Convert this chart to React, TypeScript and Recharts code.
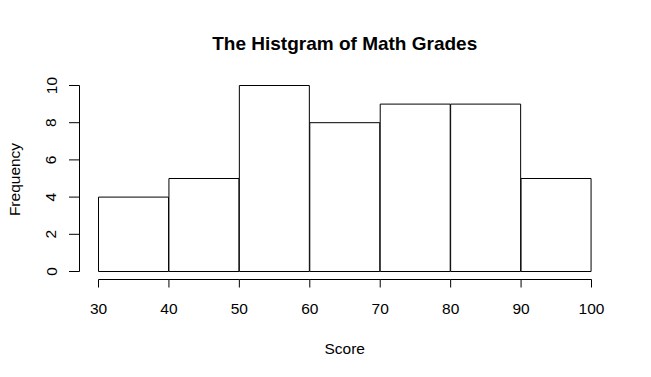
import React from "react";
import { BarChart, Bar, XAxis, YAxis } from "recharts";

// histogram bins (score ranges) and their frequencies
const bins = ["30-40", "40-50", "50-60", "60-70", "70-80", "80-90", "90-100"];
const counts = [4, 5, 10, 8, 9, 9, 5];
const scoreTicks = [30, 40, 50, 60, 70, 80, 90, 100];
const freqTicks = [0, 2, 4, 6, 8, 10];

const W = 651;
const H = 377;
const FONT = "'Liberation Sans', Arial, Helvetica, sans-serif";
const FS = 15.5;
const PLOT_LEFT = 79.5;
const PLOT_RIGHT = 591.5;
const PLOT_TOP = 85.5;
const PLOT_BOTTOM = 271.5;
const AXIS_GAP = 19; // R puts axes a little away from the data region
const X_AXIS_GAP = 8;

const data = bins.map((bin, i) => ({ bin, lo: scoreTicks[i], count: counts[i] }));

const XTick = (props: any) => {
  const { x, y, payload, index } = props;
  const step = (PLOT_RIGHT - PLOT_LEFT - AXIS_GAP) / (scoreTicks.length - 1);
  const ay = y + X_AXIS_GAP;
  return (
    <g>
      {index < scoreTicks.length - 1 && (
        <line x1={x} x2={x + step} y1={ay} y2={ay} stroke="#000" />
      )}
      <line x1={x} x2={x} y1={ay} y2={ay + 8} stroke="#000" />
      <text x={x} y={y + 42} textAnchor="middle" fontSize={FS} fontFamily={FONT} fill="#000">
        {payload.value}
      </text>
    </g>
  );
};

const YTick = (props: any) => {
  const { x, y, payload } = props;
  return (
    <g>
      <line x1={x - 10.5} x2={x} y1={y} y2={y} stroke="#000" />
      <text
        x={x - 23}
        y={y}
        transform={`rotate(-90 ${x - 23} ${y})`}
        textAnchor="middle"
        fontSize={FS}
        fontFamily={FONT}
        fill="#000"
      >
        {payload.value}
      </text>
    </g>
  );
};

export default function App() {
  return (
    <div style={{ position: "absolute", left: 0, top: 0, width: W, height: H, background: "#fff" }}>
      <BarChart
        width={W}
        height={H}
        data={data}
        barCategoryGap={0}
        margin={{ top: PLOT_TOP, right: W - PLOT_RIGHT, bottom: H - PLOT_BOTTOM - 60, left: 0 }}
      >
        <XAxis
          xAxisId="score"
          dataKey="lo"
          type="number"
          domain={[30, 100]}
          allowDataOverflow
          ticks={scoreTicks}
          interval={0}
          padding={{ left: AXIS_GAP, right: 0 }}
          height={60}
          axisLine={false}
          tickLine={false}
          tickSize={0}
          tickMargin={0}
          tick={<XTick />}
        />
        <XAxis xAxisId="bins" dataKey="bin" hide height={0} padding={{ left: AXIS_GAP, right: 0 }} />
        <YAxis
          domain={[0, 10]}
          ticks={freqTicks}
          interval={0}
          width={PLOT_LEFT}
          axisLine={{ stroke: "#000" }}
          tickLine={false}
          tickSize={0}
          tickMargin={0}
          tick={<YTick />}
        />
        <Bar
          xAxisId="bins"
          dataKey="count"
          fill="#fff"
          stroke="#000"
          strokeWidth={1}
          isAnimationActive={false}
        />
      </BarChart>
      <svg
        width={W}
        height={H}
        style={{ position: "absolute", left: 0, top: 0, pointerEvents: "none" }}
      >
        <text x={344.75} y={50} textAnchor="middle" fontSize={19} fontWeight="bold" fontFamily={FONT}>
          The Histgram of Math Grades
        </text>
        <text x={344.75} y={353.5} textAnchor="middle" fontSize={FS} fontFamily={FONT}>
          Score
        </text>
        <text
          x={20}
          y={179.5}
          transform="rotate(-90 20 179.5)"
          textAnchor="middle"
          fontSize={FS}
          fontFamily={FONT}
        >
          Frequency
        </text>
      </svg>
    </div>
  );
}
